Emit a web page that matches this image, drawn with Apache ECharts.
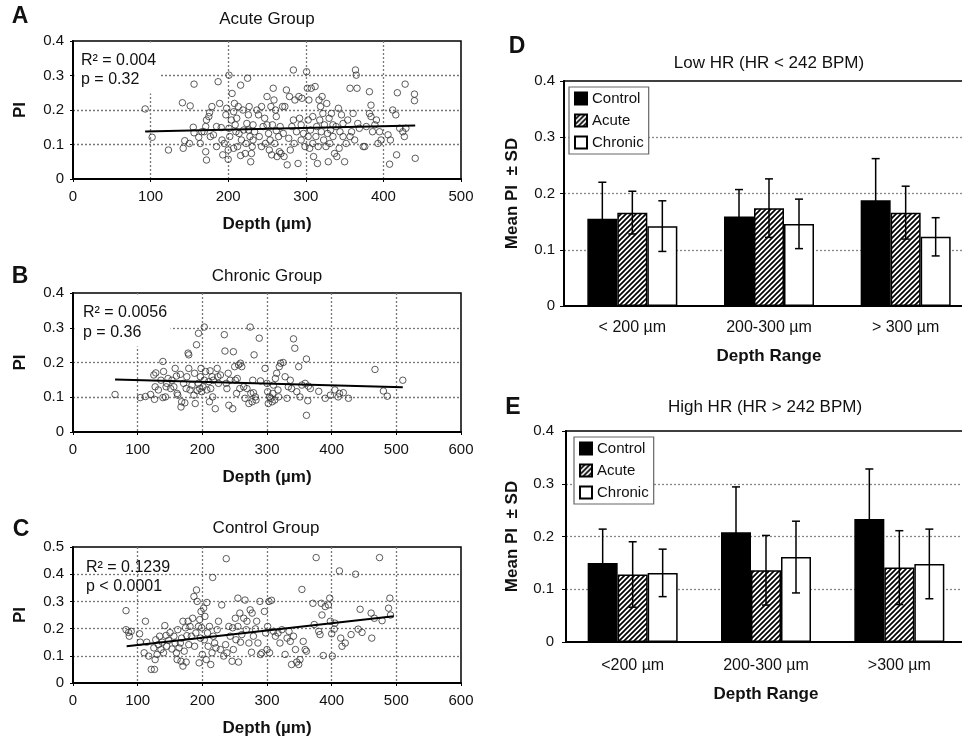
<!DOCTYPE html>
<html>
<head>
<meta charset="utf-8">
<script src="https://cdn.jsdelivr.net/npm/echarts@6/dist/echarts.min.js"></script>
<style>
html,body{margin:0;padding:0;background:#fff;}
#c{width:962px;height:739px;}
</style>
</head>
<body>
<div id="c"></div>
<script>
// ---------------- DATA ----------------
const acutePoints = [[93,0.203],[102,0.121],[123,0.084],[141,0.221],[151,0.212],[156,0.275],[144,0.111],[142,0.089],[150,0.103],[155,0.150],[156,0.134],[162,0.121],[166,0.137],[169,0.137],[171,0.152],[172,0.171],[175,0.181],[176,0.192],[177,0.123],[171,0.079],[172,0.055],[179,0.210],[181,0.128],[185,0.094],[187,0.282],[189,0.219],[191,0.149],[192,0.113],[193,0.070],[195,0.103],[197,0.186],[198,0.205],[200,0.084],[201,0.301],[201,0.147],[200,0.057],[202,0.123],[205,0.248],[207,0.195],[208,0.219],[209,0.157],[210,0.137],[211,0.176],[212,0.094],[213,0.210],[214,0.132],[216,0.272],[216,0.068],[217,0.113],[219,0.200],[220,0.142],[222,0.074],[223,0.103],[224,0.161],[225,0.292],[226,0.186],[227,0.210],[228,0.123],[229,0.050],[230,0.074],[231,0.094],[232,0.157],[234,0.137],[237,0.200],[239,0.186],[240,0.123],[243,0.210],[245,0.152],[247,0.176],[248,0.103],[250,0.239],[252,0.132],[253,0.084],[254,0.113],[255,0.210],[256,0.070],[257,0.157],[258,0.263],[259,0.229],[260,0.103],[261,0.200],[262,0.140],[263,0.065],[265,0.123],[266,0.079],[267,0.152],[268,0.074],[270,0.210],[272,0.065],[273,0.210],[275,0.258],[276,0.041],[278,0.118],[279,0.239],[280,0.084],[282,0.152],[284,0.316],[285,0.103],[286,0.229],[288,0.137],[290,0.045],[291,0.239],[292,0.176],[294,0.113],[295,0.234],[297,0.132],[299,0.094],[301,0.311],[302,0.263],[303,0.171],[303,0.123],[304,0.229],[305,0.089],[306,0.142],[307,0.263],[309,0.103],[309,0.181],[310,0.065],[312,0.268],[313,0.123],[314,0.152],[315,0.045],[316,0.094],[317,0.229],[318,0.171],[319,0.210],[320,0.137],[321,0.239],[322,0.190],[323,0.113],[324,0.157],[326,0.094],[327,0.219],[328,0.132],[329,0.050],[330,0.176],[331,0.103],[332,0.142],[333,0.190],[335,0.123],[337,0.074],[339,0.152],[340,0.065],[342,0.205],[343,0.089],[344,0.137],[346,0.186],[348,0.123],[350,0.050],[352,0.103],[354,0.171],[357,0.263],[359,0.137],[361,0.190],[363,0.113],[364,0.316],[365,0.301],[366,0.263],[367,0.161],[369,0.147],[374,0.094],[376,0.094],[378,0.152],[382,0.253],[382,0.190],[384,0.214],[384,0.181],[386,0.137],[389,0.157],[391,0.171],[393,0.103],[395,0.137],[397,0.113],[406,0.128],[408,0.043],[409,0.113],[412,0.200],[416,0.186],[417,0.070],[418,0.250],[421,0.147],[425,0.137],[427,0.123],[428,0.275],[429,0.147],[440,0.246],[440,0.227],[441,0.060],[164,0.103],[185,0.152],[204,0.171],[232,0.113],[243,0.094],[250,0.157],[271,0.132],[284,0.171],[294,0.157],[335,0.157],[348,0.161],[357,0.123],[207,0.089],[226,0.142],[262,0.181]];

const chronicPoints = [[65,0.108],[104,0.099],[112,0.102],[120,0.108],[126,0.094],[125,0.164],[127,0.130],[128,0.170],[132,0.121],[136,0.149],[139,0.099],[139,0.203],[140,0.174],[143,0.101],[144,0.130],[145,0.140],[147,0.154],[151,0.125],[153,0.149],[156,0.130],[158,0.183],[160,0.161],[161,0.111],[162,0.106],[166,0.166],[167,0.072],[168,0.087],[171,0.140],[173,0.084],[175,0.125],[176,0.159],[178,0.227],[179,0.222],[179,0.183],[181,0.121],[184,0.135],[187,0.106],[188,0.169],[189,0.082],[191,0.251],[192,0.119],[194,0.284],[194,0.140],[196,0.125],[197,0.159],[198,0.183],[199,0.116],[201,0.130],[203,0.302],[203,0.149],[205,0.174],[207,0.121],[210,0.145],[211,0.087],[212,0.176],[213,0.125],[215,0.159],[216,0.101],[217,0.149],[220,0.067],[223,0.183],[224,0.159],[225,0.140],[228,0.164],[234,0.280],[235,0.233],[237,0.140],[238,0.125],[240,0.169],[241,0.077],[243,0.149],[247,0.067],[248,0.231],[250,0.188],[251,0.149],[253,0.111],[254,0.154],[256,0.193],[258,0.125],[259,0.198],[261,0.188],[264,0.130],[266,0.097],[269,0.125],[272,0.082],[274,0.302],[275,0.111],[277,0.087],[278,0.149],[279,0.113],[280,0.222],[282,0.101],[283,0.092],[288,0.270],[290,0.147],[297,0.183],[300,0.140],[301,0.116],[302,0.082],[304,0.101],[306,0.097],[308,0.087],[309,0.111],[310,0.135],[312,0.092],[313,0.154],[315,0.169],[317,0.121],[318,0.101],[319,0.188],[321,0.198],[325,0.200],[328,0.159],[331,0.097],[333,0.130],[336,0.149],[338,0.125],[341,0.268],[343,0.241],[346,0.116],[349,0.188],[351,0.101],[354,0.135],[359,0.140],[361,0.048],[361,0.210],[363,0.090],[364,0.132],[367,0.125],[380,0.117],[390,0.097],[398,0.106],[405,0.121],[410,0.101],[412,0.111],[418,0.113],[426,0.097],[467,0.180],[480,0.118],[486,0.103],[510,0.149]];

const controlPoints = [[82,0.266],[82,0.196],[86,0.186],[90,0.190],[87,0.172],[103,0.181],[104,0.150],[110,0.111],[112,0.227],[114,0.150],[117,0.099],[121,0.050],[125,0.129],[126,0.050],[127,0.086],[128,0.159],[130,0.105],[132,0.141],[134,0.172],[136,0.123],[138,0.150],[140,0.111],[142,0.211],[144,0.175],[145,0.135],[148,0.157],[150,0.185],[153,0.125],[156,0.172],[158,0.147],[160,0.111],[161,0.086],[162,0.196],[164,0.129],[166,0.147],[167,0.080],[168,0.165],[170,0.062],[170,0.227],[172,0.117],[174,0.203],[175,0.077],[176,0.174],[178,0.227],[179,0.141],[181,0.208],[183,0.172],[185,0.238],[187,0.318],[188,0.135],[190,0.184],[191,0.342],[192,0.300],[194,0.208],[195,0.074],[196,0.233],[197,0.165],[198,0.263],[199,0.203],[200,0.105],[202,0.275],[203,0.159],[204,0.245],[206,0.086],[207,0.296],[208,0.184],[209,0.135],[211,0.208],[213,0.068],[215,0.111],[216,0.388],[217,0.172],[219,0.147],[221,0.129],[223,0.196],[225,0.227],[228,0.123],[230,0.287],[233,0.099],[236,0.141],[237,0.457],[238,0.111],[241,0.208],[243,0.172],[246,0.080],[247,0.203],[248,0.123],[251,0.238],[252,0.159],[255,0.312],[255,0.208],[256,0.077],[258,0.257],[259,0.150],[261,0.178],[264,0.238],[266,0.305],[268,0.196],[269,0.227],[272,0.147],[274,0.269],[276,0.113],[277,0.257],[279,0.172],[282,0.199],[284,0.227],[286,0.147],[289,0.300],[290,0.105],[292,0.111],[296,0.263],[298,0.184],[300,0.123],[301,0.208],[303,0.300],[304,0.111],[307,0.304],[310,0.190],[313,0.172],[317,0.184],[320,0.147],[323,0.196],[328,0.105],[331,0.165],[334,0.190],[336,0.153],[338,0.068],[341,0.172],[344,0.123],[346,0.077],[349,0.068],[351,0.086],[354,0.344],[356,0.153],[359,0.123],[361,0.117],[371,0.293],[373,0.215],[376,0.461],[380,0.190],[382,0.178],[384,0.293],[385,0.250],[387,0.101],[390,0.281],[395,0.287],[397,0.312],[398,0.227],[400,0.181],[401,0.099],[404,0.198],[405,0.220],[412,0.412],[414,0.165],[416,0.135],[421,0.147],[430,0.178],[437,0.400],[441,0.198],[444,0.271],[447,0.186],[461,0.257],[462,0.165],[466,0.238],[474,0.461],[478,0.229],[488,0.275],[490,0.312],[491,0.250]];

const acuteTrend = [[93,0.138],[441,0.155]];
const chronicTrend = [[65,0.151],[510,0.129]];
const controlTrend = [[83,0.135],[496,0.245]];

const lowCategories = ['< 200 µm','200-300 µm','> 300 µm'];
const highCategories = ['<200 µm','200-300 µm','>300 µm'];
const groupNames = ['Control','Acute','Chronic'];

const lowControlMean = [0.155,0.159,0.188];
const lowControlSD   = [0.065,0.048,0.074];
const lowAcuteMean   = [0.166,0.174,0.166];
const lowAcuteSD     = [0.038,0.052,0.047];
const lowChronicMean = [0.142,0.146,0.123];
const lowChronicSD   = [0.045,0.044,0.034];

const highControlMean = [0.150,0.208,0.233];
const highControlSD   = [0.064,0.086,0.095];
const highAcuteMean   = [0.128,0.136,0.141];
const highAcuteSD     = [0.062,0.066,0.070];
const highChronicMean = [0.131,0.161,0.148];
const highChronicSD   = [0.045,0.068,0.066];

// ---------------- STYLE / BUILD ----------------
const FONT = '"Liberation Sans", Arial, Helvetica, sans-serif';
const TXT = '#111';

// hatch pattern
const hatch = document.createElement('canvas');
hatch.width = 5; hatch.height = 5;
(function(){
  const g = hatch.getContext('2d');
  g.fillStyle = '#fff'; g.fillRect(0,0,5,5);
  g.strokeStyle = '#000'; g.lineWidth = 1.7;
  g.beginPath();
  g.moveTo(0,5); g.lineTo(5,0);
  g.moveTo(-1,1); g.lineTo(1,-1);
  g.moveTo(4,6); g.lineTo(6,4);
  g.stroke();
})();
const hatchFill = {image: hatch, repeat: 'repeat'};

const dotted = {color:'#777', width:1.3, type:[2,2]};

function scatterX(gi, max){
  return {
    type:'value', gridIndex:gi, min:0, max:max, interval:100,
    name:'Depth (µm)', nameLocation:'middle', nameGap:37,
    nameTextStyle:{fontFamily:FONT, fontSize:17, fontWeight:'bold', color:TXT},
    axisLine:{show:true, onZero:false, lineStyle:{color:'#000', width:2}},
    axisTick:{show:true, length:3, lineStyle:{color:'#000'}},
    axisLabel:{fontFamily:FONT, fontSize:15, color:TXT, margin:10},
    splitLine:{show:true, showMinLine:false, showMaxLine:false, lineStyle:dotted}
  };
}
function scatterY(gi, max){
  return {
    type:'value', gridIndex:gi, min:0, max:max, interval:0.1,
    name:'PI', nameLocation:'middle', nameGap:44, nameRotate:90,
    nameTextStyle:{fontFamily:FONT, fontSize:17, fontWeight:'bold', color:TXT},
    axisLine:{show:true, lineStyle:{color:'#000', width:2}},
    axisTick:{show:true, length:3, lineStyle:{color:'#000'}},
    axisLabel:{fontFamily:FONT, fontSize:15, color:TXT, margin:9},
    splitLine:{show:true, showMinLine:false, showMaxLine:false, lineStyle:dotted}
  };
}
function barX(gi, cats, margin, gap){
  return {
    type:'category', gridIndex:gi, data:cats,
    name:'Depth Range', nameLocation:'middle', nameGap:gap,
    nameTextStyle:{fontFamily:FONT, fontSize:17, fontWeight:'bold', color:TXT},
    axisLine:{show:true, lineStyle:{color:'#000', width:2}},
    axisTick:{show:false},
    axisLabel:{fontFamily:FONT, fontSize:16, color:TXT, margin:margin},
    splitLine:{show:false}
  };
}
function barY(gi, gap, margin){
  return {
    type:'value', gridIndex:gi, min:0, max:0.4, interval:0.1,
    name:'Mean PI  ± SD', nameLocation:'middle', nameGap:gap, nameRotate:90,
    nameTextStyle:{fontFamily:FONT, fontSize:17, fontWeight:'bold', color:TXT},
    axisLine:{show:true, lineStyle:{color:'#000', width:2}},
    axisTick:{show:true, length:4, lineStyle:{color:'#000'}},
    axisLabel:{fontFamily:FONT, fontSize:15, color:TXT, margin:margin},
    splitLine:{show:true, showMinLine:false, showMaxLine:false, lineStyle:{color:'#888', width:1.3, type:[2,2]}}
  };
}

const scatterStyle = {color:'rgba(255,255,255,0)', borderColor:'#333', borderWidth:1};
function scatterSeries(gi, pts){
  return {type:'scatter', xAxisIndex:gi, yAxisIndex:gi, data:pts, symbol:'circle', symbolSize:6.5, itemStyle:scatterStyle, z:3};
}
function trendSeries(gi, pts){
  return {type:'line', xAxisIndex:gi, yAxisIndex:gi, data:pts, symbol:'none', lineStyle:{color:'#000', width:2}, z:4};
}

const groupStyles = [
  {color:'#000', borderColor:'#000', borderWidth:1.5},
  {color:hatchFill, borderColor:'#000', borderWidth:1.5},
  {color:'#fff', borderColor:'#000', borderWidth:1.5}
];
function barSeries(gi, k, means){
  return {type:'bar', name:groupNames[k], xAxisIndex:gi, yAxisIndex:gi, data:means,
    barWidth:30, barGap:'0%', itemStyle:groupStyles[k], z:2};
}
const BARW = 30;
function errSeries(gi, meansList, sdList){
  const data = [];
  for (let k=0;k<3;k++) for (let i=0;i<3;i++) data.push([i, k, meansList[k][i], sdList[k][i]]);
  return {
    type:'custom', xAxisIndex:gi, yAxisIndex:gi, data:data, z:5,
    encode:{x:0, y:2},
    renderItem:function(params, api){
      const ci = api.value(0), k = api.value(1), m = api.value(2), s = api.value(3);
      const c = api.coord([ci, m]);
      const x = c[0] + (k-1)*BARW;
      const yt = api.coord([ci, m+s])[1];
      const yb = api.coord([ci, m-s])[1];
      const cap = 4;
      const st = {stroke:'#000', lineWidth:1.5};
      return {type:'group', children:[
        {type:'line', shape:{x1:x, y1:yt, x2:x, y2:yb}, style:st},
        {type:'line', shape:{x1:x-cap, y1:yt, x2:x+cap, y2:yt}, style:st},
        {type:'line', shape:{x1:x-cap, y1:yb, x2:x+cap, y2:yb}, style:st}
      ]};
    }
  };
}

function legendAt(left, top){
  return {
    orient:'vertical', left:left, top:top, data:groupNames, selectedMode:false,
    itemWidth:12, itemHeight:12, itemGap:7, itemTextGap:3,
    padding:[4,5,4,5], borderColor:'#666', borderWidth:1.2, backgroundColor:'#fff',
    textStyle:{fontFamily:FONT, fontSize:15, color:TXT},
    icon:'rect'
  };
}

function txt(x, y, text, size, bold, align){
  return {type:'text', x:x, y:y, z:10, style:{text:text, fill:TXT,
    font:(bold?'bold ':'') + size + 'px ' + FONT, align:align||'center', verticalAlign:'middle'}};
}

const gridBorder = {show:true, borderColor:'#000', borderWidth:1.5, backgroundColor:'transparent', containLabel:false, outerBoundsMode:'none'};

const option = {
  animation:false,
  backgroundColor:'#fff',
  grid:[
    Object.assign({left:73, top:41, width:388, height:138}, gridBorder),
    Object.assign({left:73, top:293, width:388, height:139}, gridBorder),
    Object.assign({left:73, top:547, width:388, height:136}, gridBorder),
    Object.assign({left:564, top:81, width:410, height:225}, gridBorder),
    Object.assign({left:566, top:431, width:400, height:211}, gridBorder)
  ],
  xAxis:[
    scatterX(0,500), scatterX(1,600), scatterX(2,600),
    barX(3, lowCategories, 14, 42), barX(4, highCategories, 16, 44)
  ],
  yAxis:[
    scatterY(0,0.4), scatterY(1,0.4), scatterY(2,0.5),
    barY(3, 43, 9), barY(4, 45, 12)
  ],
  legend:[ legendAt(569, 87), legendAt(574, 437) ],
  series:[
    scatterSeries(0, acutePoints), trendSeries(0, acuteTrend),
    scatterSeries(1, chronicPoints), trendSeries(1, chronicTrend),
    scatterSeries(2, controlPoints), trendSeries(2, controlTrend),
    barSeries(3,0,lowControlMean), barSeries(3,1,lowAcuteMean), barSeries(3,2,lowChronicMean),
    errSeries(3,[lowControlMean,lowAcuteMean,lowChronicMean],[lowControlSD,lowAcuteSD,lowChronicSD]),
    barSeries(4,0,highControlMean), barSeries(4,1,highAcuteMean), barSeries(4,2,highChronicMean),
    errSeries(4,[highControlMean,highAcuteMean,highChronicMean],[highControlSD,highAcuteSD,highChronicSD])
  ],
  graphic:[
    {type:'rect', z:1, shape:{x:74.5, y:42.5, width:86, height:51}, style:{fill:'#fff'}},
    {type:'rect', z:1, shape:{x:74.5, y:294.5, width:96, height:52}, style:{fill:'#fff'}},
    txt(20, 17, 'A', 23, true), txt(20, 277, 'B', 23, true), txt(21, 530, 'C', 23, true),
    txt(517, 47, 'D', 23, true), txt(513, 408, 'E', 23, true),
    txt(267, 19, 'Acute Group', 17), txt(267, 276, 'Chronic Group', 17), txt(266, 528, 'Control Group', 17),
    txt(769, 63, 'Low HR (HR < 242 BPM)', 17), txt(765, 407, 'High HR (HR > 242 BPM)', 17),
    txt(81, 61, 'R² = 0.004', 16, false, 'left'), txt(81, 80, 'p = 0.32', 16, false, 'left'),
    txt(83, 313, 'R² = 0.0056', 16, false, 'left'), txt(83, 333, 'p = 0.36', 16, false, 'left'),
    txt(86, 568, 'R² = 0.1239', 16, false, 'left'), txt(86, 587, 'p < 0.0001', 16, false, 'left')
  ]
};

const chart = echarts.init(document.getElementById('c'), null, {renderer:'canvas'});
chart.setOption(option);
</script>
</body>
</html>
